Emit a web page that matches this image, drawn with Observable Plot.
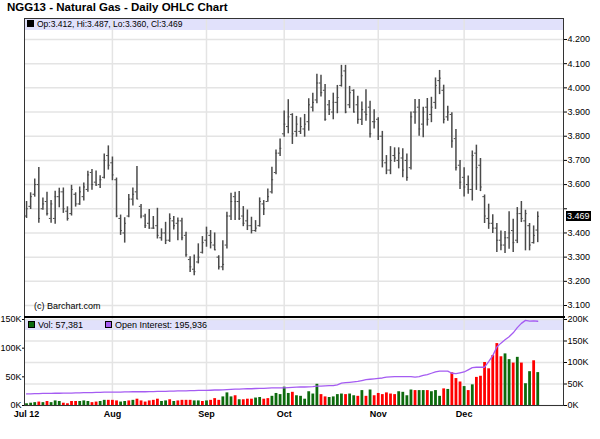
<!DOCTYPE html>
<html><head><meta charset="utf-8">
<script src="https://cdn.jsdelivr.net/npm/d3@7"></script>
<script src="https://cdn.jsdelivr.net/npm/@observablehq/plot@0.6"></script>
<style>
html,body{margin:0;padding:0;background:#fff;}
body{width:600px;height:439px;overflow:hidden;font-family:"Liberation Sans",Arial,sans-serif;color:#000;}
#wrap{position:relative;width:600px;height:439px;}
.abs{position:absolute;width:600px;left:0;}
.band{position:absolute;background:#e1e1fb;}
.txt{position:absolute;white-space:nowrap;}
.sw{display:inline-block;width:5px;height:5px;border:1px solid #000;margin-right:3px;position:relative;top:0px;}
#lastBox{position:absolute;left:566px;height:10px;line-height:10px;padding:0 1px;background:#000;color:#fff;font-size:9px;}
</style></head><body><div id="wrap">
<div class="band" style="left:24px;top:18px;width:539px;height:12px;"></div>
<div class="band" style="left:24px;top:319px;width:539px;height:11px;"></div>
<div id="lowerGrid" class="abs" style="top:317px;"></div>
<div id="price" class="abs" style="top:17px;"></div>
<div id="lowerVol" class="abs" style="top:317px;"></div>
<div id="lowerOI" class="abs" style="top:317px;"></div>
<div style="position:absolute;left:24px;top:316px;width:541px;height:2px;background:#000;"></div>
<div class="txt" style="left:7px;top:1px;font-weight:bold;font-size:11.5px;">NGG13 - Natural Gas - Daily OHLC Chart</div>
<div id="legTop" class="txt" style="left:27px;top:19px;font-size:8.5px;line-height:10px;"></div>
<div id="legBot" class="txt" style="left:28px;top:320px;font-size:9px;line-height:10px;"></div>
<div class="txt" style="left:34px;top:301px;font-size:9px;line-height:10px;">(c) Barchart.com</div>
<div id="lastBox"></div>
</div>
<script>
const months = ["Jul 12", "Aug", "Sep", "Oct", "Nov", "Dec"];
const monthStart = [0, 21, 44, 63, 86, 107];
const priceTicks = [3.1, 3.2, 3.3, 3.4, 3.5, 3.6, 3.7, 3.8, 3.9, 4.0, 4.1, 4.2];
const volTicks = [0, 50, 100, 150];
const oiTicks = [0, 50, 100, 150, 200];

const open = [
3.47,3.51,3.56,3.60,3.50,3.53,3.46,3.46,3.55,3.57,
3.49,3.48,3.56,3.52,3.55,3.58,3.65,3.61,3.60,3.63,
3.72,3.69,3.62,3.46,3.40,3.47,3.54,3.57,3.51,3.47,
3.44,3.42,3.43,3.38,3.40,3.37,3.45,3.44,3.45,3.39,
3.29,3.25,3.28,3.32,3.37,3.39,3.35,3.30,3.26,3.35,
3.47,3.55,3.53,3.47,3.45,3.43,3.41,3.43,3.52,3.53,
3.57,3.65,3.73,3.81,3.84,3.89,3.82,3.82,3.83,3.86,
3.92,3.95,4.02,3.99,3.93,3.90,3.94,4.01,4.07,3.93,
3.99,3.93,3.87,3.90,3.92,3.86,3.87,3.80,3.69,3.66,
3.72,3.70,3.71,3.70,3.67,3.90,3.92,3.85,3.92,3.89,
3.94,4.03,3.99,3.88,3.89,3.79,3.68,3.63,3.60,3.58,
3.73,3.68,3.55,3.46,3.44,3.42,3.37,3.35,3.38,3.41,
3.37,3.48,3.45,3.43,3.36,3.412];
const high = [
3.530,3.566,3.623,3.671,3.545,3.568,3.534,3.572,3.585,3.586,
3.508,3.597,3.566,3.590,3.607,3.655,3.662,3.656,3.637,3.727,
3.760,3.714,3.627,3.474,3.463,3.559,3.586,3.675,3.518,3.477,
3.497,3.468,3.502,3.417,3.444,3.479,3.468,3.462,3.461,3.403,
3.302,3.309,3.355,3.385,3.424,3.410,3.400,3.306,3.368,3.486,
3.564,3.568,3.571,3.509,3.495,3.465,3.451,3.545,3.534,3.582,
3.672,3.743,3.789,3.904,3.951,3.893,3.882,3.876,3.890,3.955,
3.978,4.056,4.052,4.014,3.948,3.978,4.010,4.093,4.093,4.006,
3.992,3.965,3.941,3.992,3.945,3.909,3.876,3.820,3.720,3.757,
3.752,3.752,3.748,3.727,3.900,3.952,3.952,3.920,3.956,3.961,
4.041,4.072,4.011,3.924,3.897,3.828,3.700,3.670,3.636,3.739,
3.763,3.708,3.557,3.519,3.475,3.439,3.408,3.406,3.488,3.457,
3.505,3.530,3.494,3.439,3.429,3.487];
const low = [
3.460,3.497,3.548,3.440,3.494,3.470,3.440,3.436,3.504,3.481,
3.449,3.470,3.507,3.514,3.532,3.568,3.577,3.593,3.584,3.623,
3.660,3.616,3.463,3.390,3.358,3.463,3.511,3.538,3.459,3.418,
3.415,3.415,3.375,3.366,3.352,3.361,3.412,3.368,3.368,3.300,
3.237,3.223,3.272,3.313,3.341,3.334,3.327,3.247,3.244,3.334,
3.451,3.451,3.451,3.426,3.410,3.396,3.403,3.424,3.472,3.527,
3.561,3.641,3.716,3.796,3.810,3.766,3.796,3.807,3.796,3.821,
3.900,3.934,3.962,3.862,3.886,3.868,3.893,4.003,3.893,3.914,
3.896,3.849,3.844,3.862,3.793,3.830,3.782,3.669,3.641,3.641,
3.692,3.665,3.628,3.614,3.660,3.849,3.800,3.794,3.842,3.856,
3.911,3.972,3.851,3.862,3.750,3.656,3.580,3.549,3.560,3.532,
3.576,3.571,3.439,3.415,3.398,3.319,3.326,3.315,3.333,3.319,
3.356,3.443,3.326,3.326,3.354,3.360];
const close = [
3.50,3.55,3.60,3.46,3.52,3.48,3.52,3.55,3.57,3.50,
3.46,3.58,3.52,3.57,3.59,3.64,3.60,3.598,3.62,3.70,
3.68,3.64,3.47,3.41,3.44,3.54,3.56,3.54,3.47,3.43,
3.42,3.42,3.39,3.40,3.37,3.46,3.43,3.45,3.38,3.31,
3.26,3.24,3.30,3.36,3.40,3.36,3.33,3.26,3.27,3.47,
3.53,3.53,3.46,3.44,3.43,3.41,3.42,3.53,3.50,3.55,
3.62,3.73,3.75,3.85,3.88,3.81,3.85,3.84,3.85,3.93,
3.94,4.02,3.98,3.87,3.91,3.94,3.96,4.05,3.90,3.98,
3.90,3.87,3.91,3.89,3.81,3.86,3.80,3.70,3.66,3.70,
3.71,3.73,3.66,3.63,3.88,3.90,3.83,3.90,3.87,3.92,
4.01,4.04,3.87,3.90,3.78,3.67,3.61,3.59,3.58,3.72,
3.67,3.59,3.47,3.44,3.42,3.37,3.35,3.38,3.40,3.36,
3.48,3.46,3.48,3.35,3.39,3.469];
const volumeK = [
3,4,5,6,5,7,5,8,7,4,
3,7,7,7,8,7,5,6,7,9,
9,9,8,6,7,8,9,11,8,6,
8,9,11,7,8,10,7,8,9,9,
9,8,8,7,8,9,12,9,15,22,
15,17,10,10,11,11,13,14,11,12,
16,21,19,32,21,23,17,16,11,24,
20,37,19,15,14,15,19,20,19,20,
17,16,26,16,27,17,21,19,22,20,
19,24,23,17,27,26,26,26,26,24,
26,16,29,28,57,47,41,33,26,36,
49,51,75,64,87,108,85,90,80,74,
84,74,38,59,78,57.381];
const direction = [
"u","u","u","d","u","d","u","u","u","d",
"d","d","d","u","u","u","d","d","u","u",
"d","d","d","u","u","d","u","d","d","d",
"d","d","d","u","u","d","u","d","d","d",
"d","u","u","d","u","d","d","d","u","u",
"u","d","u","d","d","d","u","u","d","d",
"u","u","u","u","u","d","u","u","u","u",
"u","u","d","d","u","u","u","u","d","u",
"u","d","u","d","u","d","d","d","d","d",
"d","u","u","u","u","d","u","u","d","u",
"u","u","d","u","d","d","d","u","d","u",
"d","d","d","d","d","d","d","u","u","d",
"u","d","u","u","d","u"];
const openInterestK = [
27,27,27.5,27.5,28,28,28,28.5,28.5,29,
29,29,29.5,29.5,30,30,30,30.5,30.5,31,
31,31,31,31,31.5,31.5,32,32,32,32,
32.5,32.5,33,33,33,33.5,33.5,34,34,34,
34.5,34.5,35,35,35,35.5,36,36,36.5,37,
37.5,38,38,38.5,39,39,39.5,40,40,40.5,
41,41,41,41,41.5,42,42.5,43,43,43.5,
44,45,45,45.5,46,46,48,52,53,54,
55,56,58,60,61,62,63,64,66,66.5,
67,67,67,67,67,66,67,70,72,75,
78,80,80,80,75,74,76,78,83,88,
89,89,89,102,116,136,145,153,160,169,
181,191,198,196,197,195.936];

const bars = open.map((o, i) => ({
  i, open: o, high: high[i], low: low[i], close: close[i],
  vol: volumeK[i], oi: openInterestK[i], up: direction[i] === "u"
}));
const last = bars[bars.length - 1];

const FONT = '"Liberation Sans", Arial, sans-serif';
const baseStyle = {background: "transparent", fontFamily: FONT, fontSize: "9px", color: "#000", overflow: "visible"};
const xDomain = [-0.5, 131.3];
const GRID = "#e4e4e4";
const BAR = "#4a4a4a";
const f3 = d3.format(".3f");

const pricePlot = Plot.plot({
  width: 600, height: 301,
  marginLeft: 24, marginRight: 37, marginTop: 1, marginBottom: 1,
  style: baseStyle,
  x: {domain: xDomain, axis: null},
  y: {domain: [3.05041, 4.28678], axis: "right", ticks: priceTicks,
      tickFormat: d => Math.abs(d - last.close) < 0.06 ? "" : f3(d),
      tickSize: 3, tickPadding: 1, label: null},
  marks: [
    Plot.ruleY(priceTicks, {stroke: GRID, strokeWidth: 1.5}),
    Plot.ruleX(monthStart.slice(1), {stroke: GRID, strokeWidth: 1.5}),
    Plot.frame({stroke: "#333"}),
    Plot.ruleX(bars, {x: "i", y1: "low", y2: "high", stroke: BAR, strokeWidth: 1.5}),
    Plot.ruleY(bars, {y: "open", x1: d => d.i - 0.42, x2: "i", stroke: BAR, strokeWidth: 1}),
    Plot.ruleY(bars, {y: "close", x1: "i", x2: d => d.i + 0.42, stroke: BAR, strokeWidth: 1})
  ]
});

const lowerGrid = Plot.plot({
  width: 600, height: 122,
  marginLeft: 24, marginRight: 37, marginTop: 0, marginBottom: 34,
  style: baseStyle,
  x: {domain: xDomain, axis: null},
  y: {domain: [0, 200 * 88 / 86], axis: "right", ticks: oiTicks, tickFormat: d => d + "K", tickSize: 3, tickPadding: 1, label: null},
  marks: [
    Plot.ruleY(oiTicks, {stroke: GRID, strokeWidth: 1.5}),
    Plot.ruleX(monthStart.slice(1), {stroke: GRID, strokeWidth: 1.5})
  ]
});

const volPlot = Plot.plot({
  width: 600, height: 122,
  marginLeft: 24, marginRight: 37, marginTop: 0, marginBottom: 34,
  style: baseStyle,
  x: {domain: xDomain, axis: "bottom", ticks: monthStart, tickFormat: d => months[monthStart.indexOf(d)], tickSize: 0, tickPadding: 5, label: null},
  y: {domain: [0, 150 * 88 / 86], axis: "left", ticks: volTicks, tickFormat: d => d + "K", tickSize: 2, tickPadding: 1, label: null},
  marks: [
    Plot.ruleX(bars, {x: "i", y: "vol", stroke: d => d.up ? "#0d6b0d" : "#ff0000", strokeWidth: 2.8}),
    Plot.frame({stroke: "#333"})
  ]
});

const oiPlot = Plot.plot({
  width: 600, height: 122,
  marginLeft: 24, marginRight: 37, marginTop: 0, marginBottom: 34,
  style: baseStyle,
  x: {domain: xDomain, axis: null},
  y: {domain: [0, 200 * 88 / 86], axis: null},
  marks: [
    Plot.line(bars, {x: "i", y: "oi", stroke: "#a55cf2", strokeWidth: 1.3})
  ]
});

document.getElementById("price").append(pricePlot);
document.getElementById("lowerGrid").append(lowerGrid);
document.getElementById("lowerVol").append(volPlot);
document.getElementById("lowerOI").append(oiPlot);

volPlot.querySelectorAll('[aria-label^="x-axis"]').forEach(g => { g.style.fontWeight = "bold"; });

// last-price marker on the right axis, placed with the plot's own y scale
const lastY = 17 + pricePlot.scale("y").apply(last.close);
const box = document.getElementById("lastBox");
box.textContent = f3(last.close);
box.style.top = (lastY - 5) + "px";

document.getElementById("legTop").innerHTML =
  '<span class="sw" style="background:#000"></span>Op:' + f3(last.open) + ', Hi:' + f3(last.high) + ', Lo:' + f3(last.low) + ', Cl:' + f3(last.close);
document.getElementById("legBot").innerHTML =
  '<span class="sw" style="background:#0d6b0d"></span>Vol: ' + d3.format(",")(Math.round(last.vol * 1000)) +
  '<span style="display:inline-block;width:22px"></span><span class="sw" style="background:#a55cf2"></span>Open Interest: ' + d3.format(",")(Math.round(last.oi * 1000));
</script>
</body></html>
